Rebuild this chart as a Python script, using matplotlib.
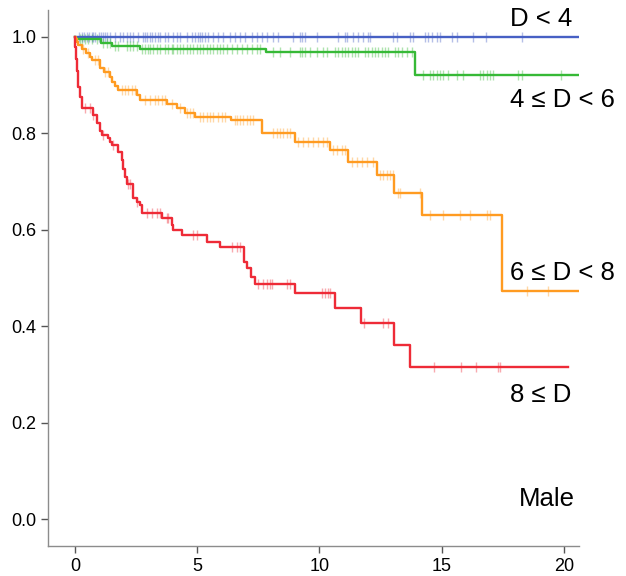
import numpy as np
import matplotlib.pyplot as plt

# Kaplan-Meier curves, male, grouped by D
# event times (start at 0) and survival after each step
red_t = [0, 0.02, 0.05, 0.08, 0.11, 0.14, 0.2, 0.27, 0.75, 0.89, 1.02, 1.09, 1.36, 1.45, 1.5,
         1.77, 1.91, 1.98, 2.04, 2.11, 2.39, 2.52, 2.66, 2.73, 3.55, 3.95, 4.02, 4.36, 5.39,
         5.93, 6.91, 7.02, 7.18, 7.36, 9.0, 10.63, 11.68, 13.06, 13.68, 20.18]
red_s = [1.0, 0.98, 0.955, 0.93, 0.91, 0.897, 0.875, 0.852, 0.838, 0.821, 0.804, 0.797, 0.79,
         0.783, 0.776, 0.762, 0.745, 0.727, 0.71, 0.696, 0.665, 0.658, 0.651, 0.634, 0.624,
         0.61, 0.6, 0.589, 0.575, 0.564, 0.534, 0.52, 0.503, 0.488, 0.468, 0.437, 0.406,
         0.361, 0.315, 0.315]
red_cens = [0.41, 0.61, 0.75, 1.16, 1.57, 2.18, 2.25, 2.52, 2.93, 3.14, 3.34, 3.48, 3.75, 3.82,
            4.84, 4.98, 6.41, 6.61, 6.75, 7.5, 7.7, 7.84, 7.98, 8.04, 8.66, 8.8, 10.09, 10.23,
            10.36, 10.43, 11.8, 12.6, 12.8, 14.7, 15.8, 16.4, 17.3, 17.4]

orange_t = [0, 0.05, 0.1, 0.14, 0.3, 0.45, 0.61, 0.68, 1.02, 1.2, 1.43, 1.5, 1.65, 1.77, 2.52,
            2.66, 3.75, 4.16, 4.5, 4.9, 6.4, 7.63, 9.0, 10.43, 11.18, 12.34, 13.06, 14.18,
            17.45, 20.6]
orange_s = [1.0, 0.995, 0.99, 0.983, 0.975, 0.967, 0.959, 0.952, 0.935, 0.928, 0.918, 0.907,
            0.898, 0.89, 0.879, 0.869, 0.862, 0.852, 0.842, 0.835, 0.828, 0.8, 0.783, 0.766,
            0.741, 0.714, 0.677, 0.631, 0.472, 0.472]
orange_cens = [0.34, 0.55, 0.82, 0.95, 1.23, 1.36, 1.91, 2.04, 2.18, 2.32, 2.45, 2.86, 3.07,
               3.27, 3.41, 3.55, 3.68, 3.95, 4.29, 4.57, 4.7, 4.84, 5.11, 5.25, 5.39, 5.52,
               5.66, 5.86, 6.0, 6.14, 6.54, 6.61, 6.75, 6.89, 7.02, 7.16, 7.29, 8.11, 8.25,
               8.38, 8.52, 8.66, 8.79, 9.13, 9.34, 9.54, 9.75, 9.95, 10.16, 10.29, 10.57,
               10.7, 10.91, 11.04, 11.31, 11.52, 11.72, 11.93, 12.2, 12.47, 12.61, 12.74,
               12.88, 13.02, 13.23, 13.29, 14.11, 14.52, 15.06, 15.75, 16.16, 16.84, 16.98,
               18.47, 19.36]

green_t = [0, 0.05, 1.05, 1.5, 2.66, 7.8, 13.9, 20.6]
green_s = [1.0, 0.995, 0.987, 0.982, 0.976, 0.968, 0.921, 0.921]
green_cens = [0.2, 0.27, 0.41, 0.55, 0.68, 0.89, 1.16, 1.3, 1.43, 1.64, 1.77, 2.11, 2.25,
              2.39, 2.52, 2.73, 2.86, 3.0, 3.07, 3.2, 3.34, 3.48, 3.68, 3.82, 3.95, 4.02,
              4.16, 4.29, 4.43, 4.57, 4.7, 4.84, 4.98, 5.11, 5.25, 5.39, 5.52, 5.66, 5.79,
              5.93, 6.07, 6.2, 6.41, 6.61, 6.82, 7.02, 7.23, 7.43, 7.57, 8.11, 8.39, 8.8,
              9.2, 9.27, 9.41, 9.61, 9.88, 10.16, 10.29, 10.63, 10.77, 10.91, 11.04, 11.18,
              11.32, 11.45, 11.59, 11.86, 12.0, 12.13, 12.27, 12.41, 12.54, 12.68, 12.82,
              13.09, 13.22, 13.36, 13.57, 13.77, 14.25, 14.52, 14.66, 14.79, 14.93, 15.07,
              15.27, 15.61, 15.88, 16.56, 16.7, 16.84, 16.97, 17.1, 18.13, 18.27, 19.87]

blue_t = [0, 20.63]
blue_s = [1.0, 1.0]
blue_cens = [0.18, 0.27, 0.37, 0.48, 0.59, 0.68, 0.75, 0.82, 1.0, 1.05, 1.13, 1.23, 1.3,
             1.43, 1.64, 1.84, 1.98, 2.11, 2.25, 2.39, 2.59, 2.77, 2.86, 2.96, 3.07, 3.14,
             3.27, 3.41, 3.48, 3.68, 3.82, 4.02, 4.16, 4.29, 4.57, 4.77, 4.91, 5.04, 5.11,
             5.18, 5.32, 5.45, 5.66, 5.86, 6.07, 6.34, 6.54, 6.75, 6.95, 7.23, 7.43, 7.63,
             7.84, 8.11, 8.32, 8.93, 9.2, 9.27, 9.41, 9.88, 10.77, 11.04, 11.11, 11.38,
             11.59, 11.79, 12.0, 12.07, 13.02, 13.16, 13.7, 13.84, 14.31, 14.45, 14.59,
             14.79, 14.93, 15.41, 15.61, 16.29, 16.8, 18.27]

curves = [
    (blue_t, blue_s, blue_cens, '#4760c4'),
    (green_t, green_s, green_cens, '#36b936'),
    (orange_t, orange_s, orange_cens, '#ff9b21'),
    (red_t, red_s, red_cens, '#ee2b37'),
]

labels = ['D < 4', '4 ≤ D < 6', '6 ≤ D < 8', '8 ≤ D', 'Male']
label_y = [19, 100, 273, 395, 499]   # pixel rows of the label centres
label_x = [510, 510, 510, 510, 519]

plt.rcParams['font.family'] = ['Liberation Sans', 'DejaVu Sans']

fig = plt.figure(figsize=(6.26, 5.76), dpi=100)
ax = fig.add_axes([48 / 626, 30 / 576, 531 / 626, 536 / 576])

for t, s, cens, col in curves:
    ax.step(t, s, where='post', color=col, linewidth=1.7, zorder=3)
    idx = np.searchsorted(t, cens, side='right') - 1
    ax.plot(cens, np.array(s)[idx], linestyle='none', marker='|', markersize=7,
            markeredgewidth=1, color=col, alpha=0.4, zorder=2)

ax.set_xlim(-1.1, 20.61)
ax.set_ylim(-0.056, 1.056)
ax.set_xticks([0, 5, 10, 15, 20])
ax.set_yticks([0.0, 0.2, 0.4, 0.6, 0.8, 1.0])
ax.yaxis.set_major_formatter(plt.FormatStrFormatter('%.1f'))

for side in ['top', 'right']:
    ax.spines[side].set_visible(False)
for side in ['left', 'bottom']:
    ax.spines[side].set_color('#8c8c8c')
    ax.spines[side].set_linewidth(1.0)
ax.tick_params(length=5, width=1, color='#555555', labelsize=13, labelcolor='black')

for txt, x, y in zip(labels, label_x, label_y):
    fig.text(x / 626, 1 - y / 576, txt, ha='left', va='center', fontsize=18.5)

fig.savefig('out.png', dpi=100)
